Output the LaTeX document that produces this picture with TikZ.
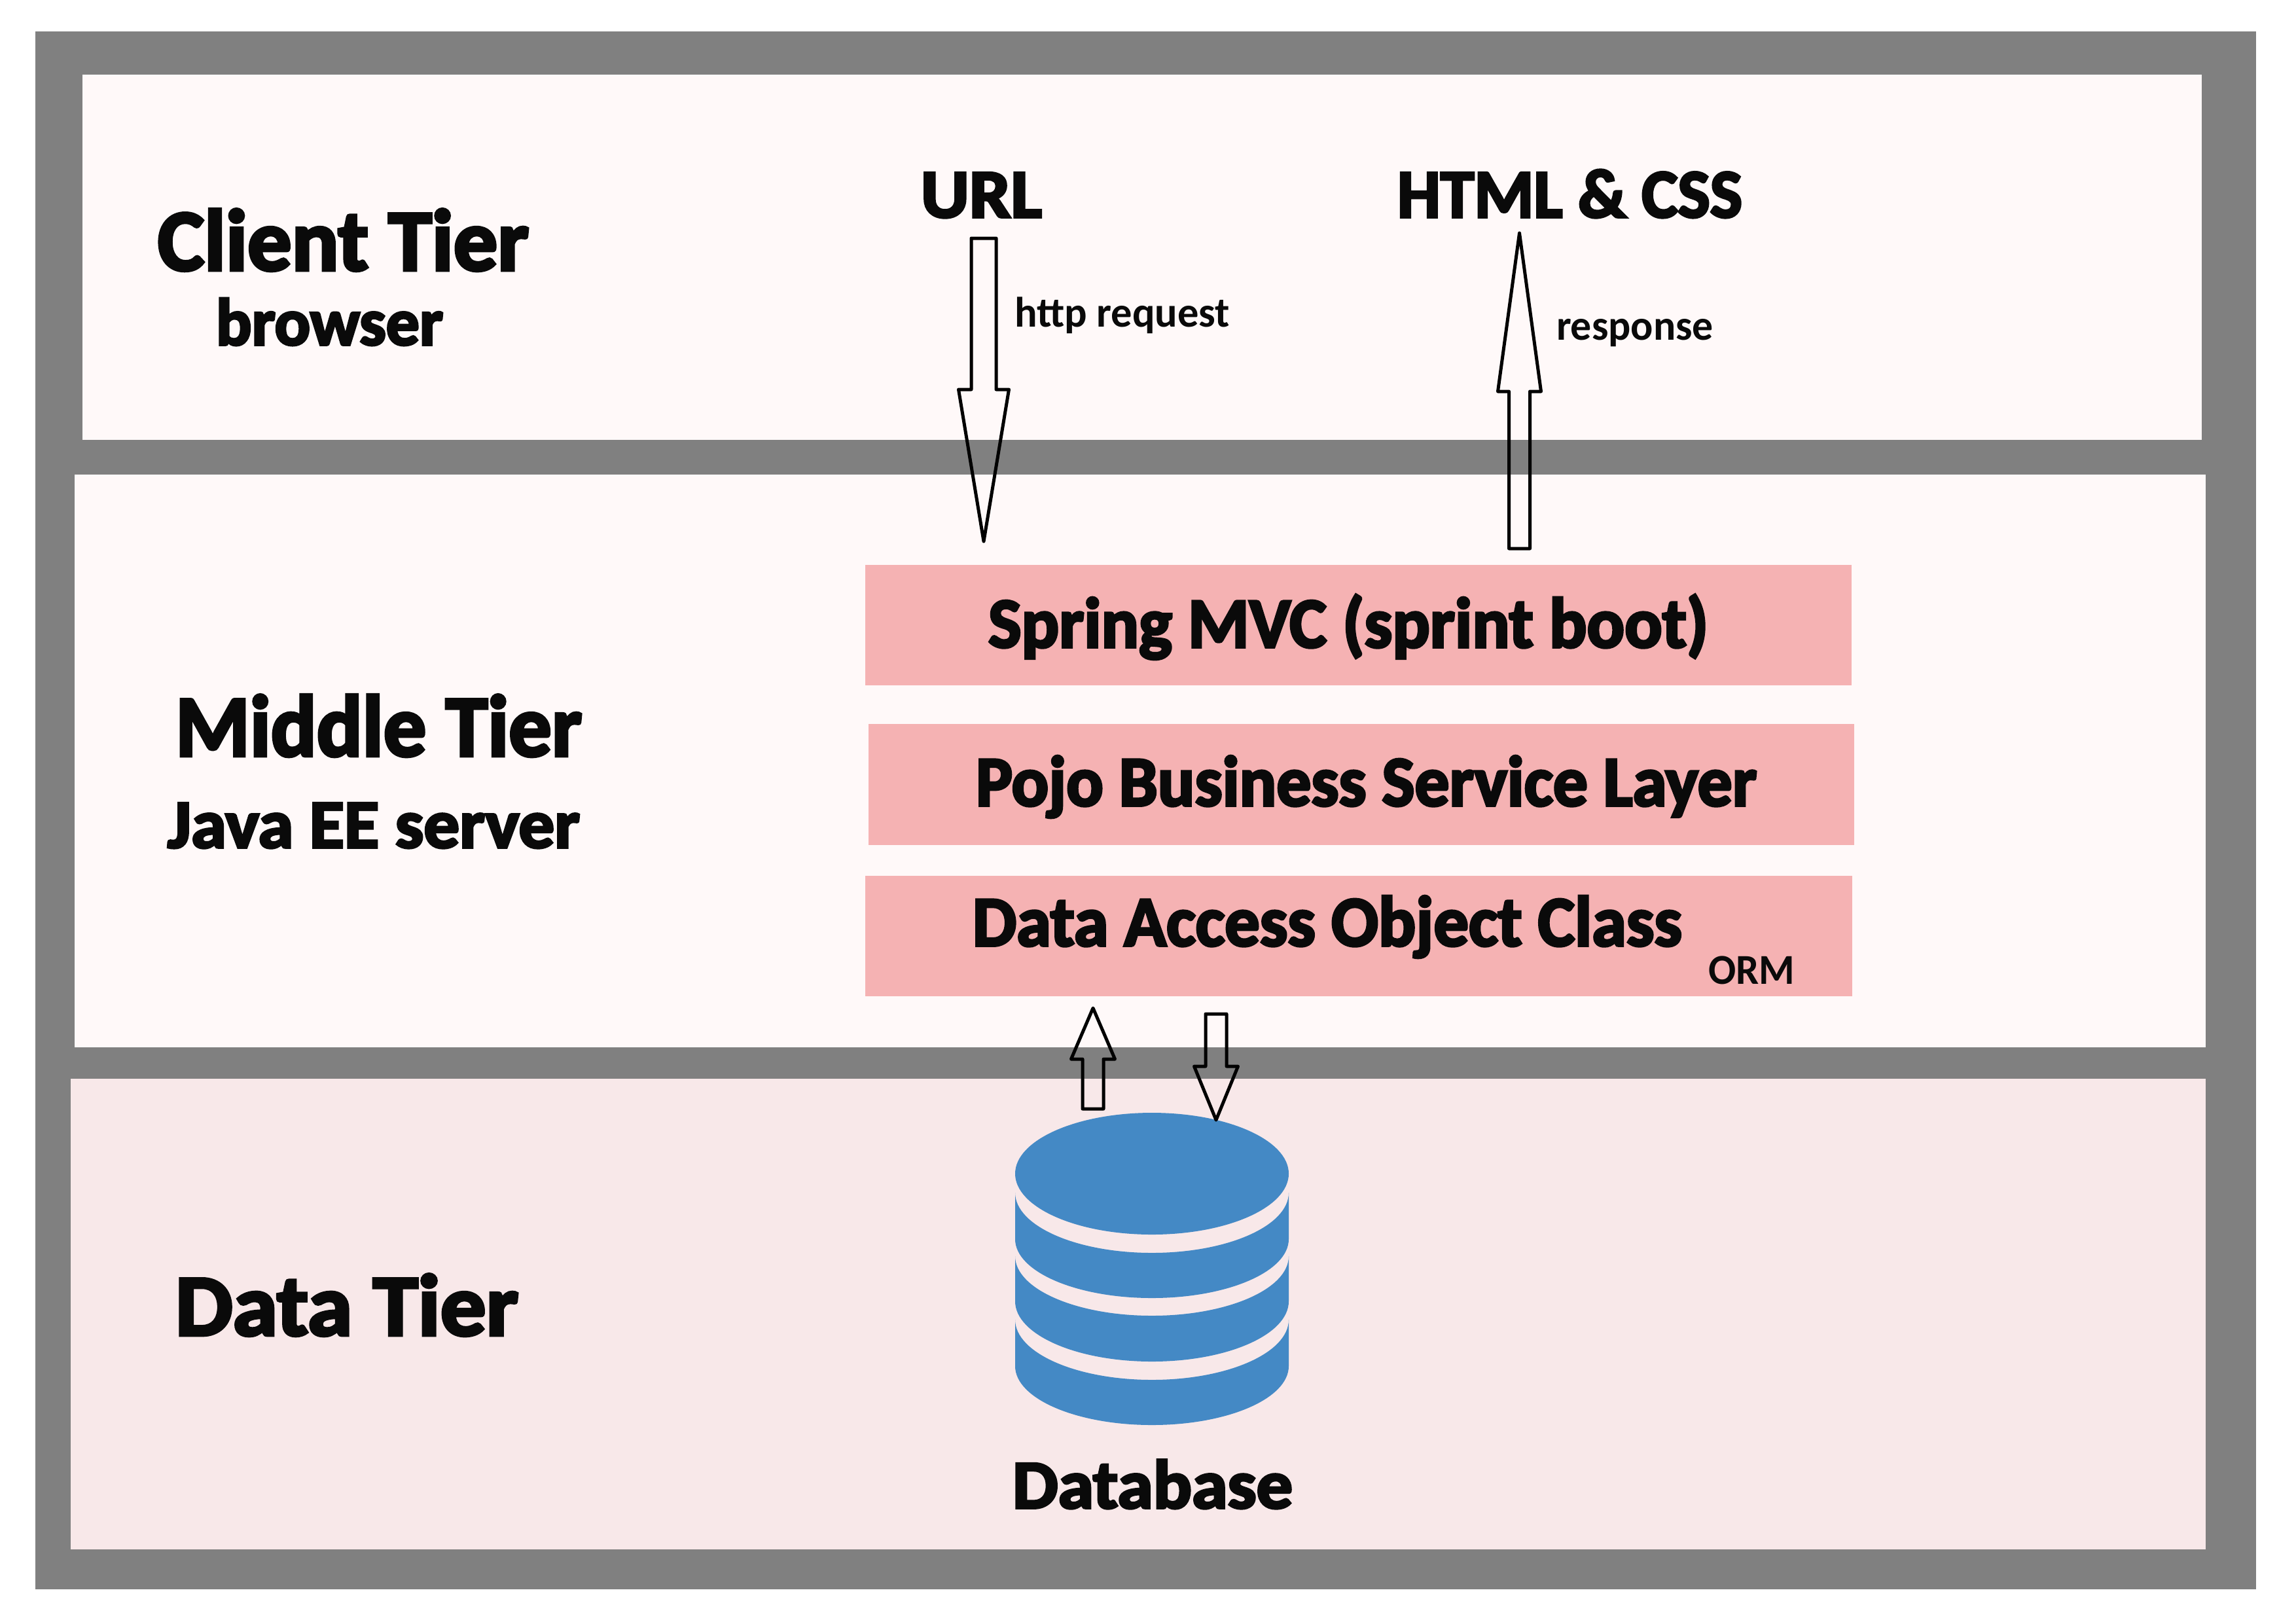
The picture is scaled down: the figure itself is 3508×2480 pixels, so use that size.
\documentclass[tikz,border=0pt]{standalone}
\usepackage{fontspec}
\usepackage{graphicx}
\setmainfont{Carlito}
\newfontfamily\headfont[FakeBold=3.5]{Carlito Bold}
\newfontfamily\smallfont{Carlito Bold}
\definecolor{framegray}{HTML}{808080}
\definecolor{panelpale}{HTML}{FFF9F9}
\definecolor{panelrose}{HTML}{F8E8E9}
\definecolor{boxpink}{HTML}{F5B2B3}
\definecolor{dbblue}{HTML}{4489C5}
\definecolor{inkblack}{HTML}{0A0A0A}
\tikzset{
  lab/.style={anchor=base west,inner sep=0pt,outer sep=0pt,text=inkblack},
  blockarrow/.style={draw=black,line width=1.42pt,line join=round},
}
% name, x, baseline y, width, size, font, text
\newcommand{\lab}[7]{\node[lab] (#1) at (#2,#3) {\resizebox{#4\dimexpr0.01cm\relax}{\height}{#6\fontsize{#5}{#5}\selectfont #7}};}
% cx, half shaft, half head, tail y, shoulder y, tip y
\newcommand{\blockarr}[6]{\draw[blockarrow] ({#1-#2},#4) -- ({#1+#2},#4) -- ({#1+#2},#5) -- ({#1+#3},#5) -- (#1,#6) -- ({#1-#3},#5) -- ({#1-#2},#5) -- cycle;}
% y1 side top, y2 side bottom, ybot centre bottom, yup centre of the upper edge
\newcommand{\dbband}[4]{\fill[dbblue] (1551,#1) -- (1551,#2) .. controls (1551,{#2+0.5523*(#3-#2)}) and ({1760-115.4},#3) .. (1760,#3) .. controls ({1760+115.4},#3) and (1969,{#2+0.5523*(#3-#2)}) .. (1969,#2) -- (1969,#1) .. controls (1969,{#1+0.5523*(#4-#1)}) and ({1760+115.4},#4) .. (1760,#4) .. controls ({1760-115.4},#4) and (1551,{#1+0.5523*(#4-#1)}) .. cycle;}
\begin{document}
\begin{tikzpicture}[x=0.01cm,y=-0.01cm]
\useasboundingbox (0,0) rectangle (3508,2480);
\fill[white] (0,0) rectangle (3508,2480);
\fill[framegray] (54,48) rectangle (3447,2428);
\fill[panelpale] (126,114) rectangle (3364,672);
\fill[panelpale] (114,725) rectangle (3370,1600);
\fill[panelrose] (108,1648) rectangle (3370,2367);
\fill[boxpink] (1322,863) rectangle (2829,1047);
\fill[boxpink] (1327,1106) rectangle (2833,1291);
\fill[boxpink] (1322,1338) rectangle (2830,1522);
% database
\fill[dbblue] (1760,1793) ellipse [x radius=209,y radius=93];
\dbband{1822}{1893}{1983}{1914}
\dbband{1919}{1988}{2080}{2010}
\dbband{2016}{2087}{2177}{2108}
% arrows
\blockarr{1503}{19}{38.5}{364}{595}{827}
\blockarr{2321.5}{16}{33}{838}{598}{356}
\blockarr{1670}{16}{33.5}{1694}{1618}{1540}
\blockarr{1858}{16}{33.5}{1549}{1629}{1711}
% labels
\lab{clienttier}{241}{413}{567}{38}{\headfont}{Client Tier}
\lab{browser}{330}{527}{347}{29}{\headfont}{browser}
\lab{url}{1407}{332}{185}{30}{\headfont}{URL}
\lab{htmlcss}{2135}{332}{527}{30}{\headfont}{HTML \& CSS}
\lab{httpreq}{1550}{499}{329}{18.5}{\smallfont}{http request}
\lab{response}{2378}{519}{240}{18.5}{\smallfont}{response}
\lab{middletier}{268}{1155}{621}{38}{\headfont}{Middle Tier}
\lab{javaee}{256}{1295}{630}{30}{\headfont}{Java EE server}
\lab{spring}{1510}{989}{1100}{31}{\headfont}{Spring MVC (sprint boot)}
\lab{pojo}{1491}{1231}{1193}{31}{\headfont}{Pojo Business Service Layer}
\lab{dao}{1486}{1445}{1084}{31}{\headfont}{Data Access Object Class}
\lab{orm}{2610}{1503}{132}{18.5}{\smallfont}{ORM}
\lab{datatier}{268}{2040}{524}{38}{\headfont}{Data Tier}
\lab{database}{1547}{2304}{428}{30}{\headfont}{Database}
\end{tikzpicture}
\end{document}
